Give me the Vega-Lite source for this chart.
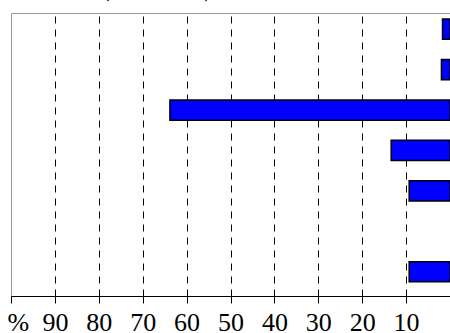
{
  "$schema": "https://vega.github.io/schema/vega-lite/v6.json",
  "autosize": {"type": "none"},
  "padding": {"left": 11, "top": 13, "right": 0, "bottom": 37},
  "width": 439,
  "height": 283,
  "background": "white",
  "title": {
    "text": "(in tonnes)",
    "anchor": "start",
    "dx": 94,
    "dy": -12,
    "offset": 0,
    "font": "Liberation Serif",
    "fontSize": 26,
    "fontWeight": "normal",
    "color": "#000"
  },
  "config": {
    "font": "Liberation Serif",
    "view": {"stroke": "#999", "strokeWidth": 1},
    "axis": {"labelFont": "Liberation Serif"}
  },
  "data": {
    "values": [
      {"category": "A", "value": 1.7},
      {"category": "B", "value": 1.95},
      {"category": "C", "value": 63.8},
      {"category": "D", "value": 13.4},
      {"category": "E", "value": 9.3},
      {"category": "F", "value": null},
      {"category": "G", "value": 9.3}
    ]
  },
  "mark": {"type": "bar", "fill": "#0000ff", "stroke": "#000", "strokeWidth": 1.5},
  "encoding": {
    "y": {
      "field": "category",
      "type": "nominal",
      "sort": null,
      "scale": {"domain": ["A", "B", "C", "D", "E", "F", "G"], "paddingInner": 0.5, "paddingOuter": 0.25, "align": 0.3},
      "axis": null
    },
    "x": {
      "field": "value",
      "type": "quantitative",
      "scale": {"domain": [0, 100], "reverse": true, "nice": false, "zero": true},
      "axis": {
        "title": null,
        "values": [0, 10, 20, 30, 40, 50, 60, 70, 80, 90, 100],
        "labelExpr": "datum.value == 100 ? '%' : (datum.value == 0 ? '' : datum.label)",
        "labelFont": "Liberation Serif",
        "labelFontSize": 26,
        "labelColor": "#000",
        "labelPadding": 6,
        "labelFlush": true,
        "labelFlushOffset": 4,
        "labelOverlap": false,
        "domainColor": "#000",
        "domainWidth": 1,
        "tickColor": "#000",
        "tickSize": 7,
        "tickWidth": 1,
        "grid": true,
        "gridColor": "#000",
        "gridWidth": 1,
        "gridDash": [7, 6],
        "gridOpacity": {"condition": {"test": "datum.value == 100 || datum.value == 0", "value": 0}, "value": 1}
      }
    }
  }
}
